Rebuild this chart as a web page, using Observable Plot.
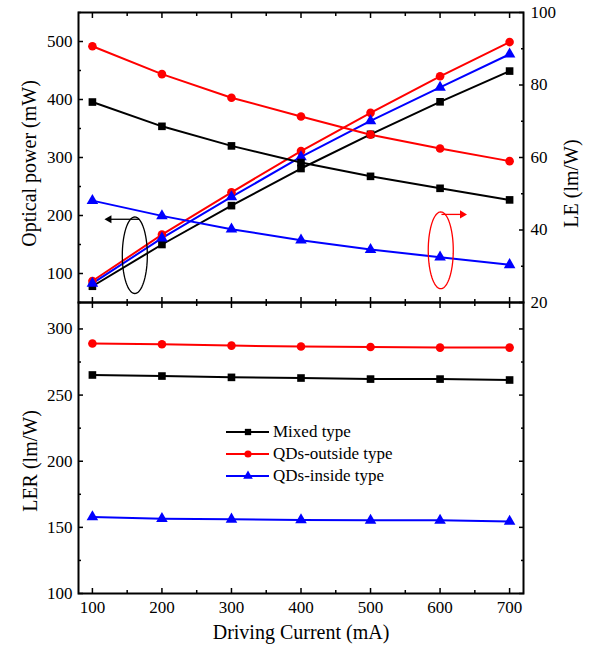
<!DOCTYPE html>
<html><head><meta charset="utf-8">
<script src="https://cdn.jsdelivr.net/npm/d3@7"></script>
<script src="https://cdn.jsdelivr.net/npm/@observablehq/plot@0.6"></script>
<style>
body{margin:0;background:#fff;}
#chart{position:relative;width:593px;height:646px;font-family:"Liberation Serif","Times New Roman",serif;background:#fff;}
#top,#bottom{position:absolute;left:0;}
#top{top:0}
#bottom{top:302px}
#chart svg{overflow:visible;}
#legend{position:absolute;left:226px;top:421px;font-size:17px;color:#000;}
.row{display:flex;align-items:center;height:22px;}
.row svg{margin-right:3px;}
</style></head><body>
<div id="chart"><div id="top"></div><div id="bottom"></div><div id="legend"></div></div>
<script>
// ---- data ----
const current = [100, 200, 300, 400, 500, 600, 700];
const seriesNames = ["Mixed type", "QDs-outside type", "QDs-inside type"];
const seriesColors = ["#000000", "#ff0000", "#0000ff"];
const seriesSymbols = ["square", "circle", "triangle"];

// optical power (mW), left axis
const powerMixed   = [78, 150, 217, 281, 340, 396, 449];
const powerOutside = [87, 167, 240, 311, 377, 440, 499];
const powerInside  = [83, 161, 232, 301, 363, 421, 478];

// luminous efficacy LE (lm/W), right axis
const leMixed   = [75.3, 68.6, 63.2, 58.6, 54.8, 51.5, 48.3];
const leOutside = [90.7, 83.0, 76.5, 71.3, 66.3, 62.5, 59.0];
const leInside  = [48.1, 43.9, 40.2, 37.2, 34.6, 32.5, 30.4];

// LER (lm/W), bottom panel
const lerMixed   = [265.2, 264.4, 263.4, 262.9, 262.1, 262.1, 261.4];
const lerOutside = [289.0, 288.4, 287.4, 286.7, 286.4, 285.9, 285.9];
const lerInside  = [157.9, 156.6, 156.1, 155.6, 155.3, 155.3, 154.5];

// tick values
const xMajor = [100, 200, 300, 400, 500, 600, 700];
const xMinor = [150, 250, 350, 450, 550, 650];
const powerMajor = [100, 200, 300, 400, 500];
const powerMinor = [50, 150, 250, 350, 450, 550];
const leMajor = [20, 40, 60, 80, 100];
const leMinor = [30, 50, 70, 90];
const lerMajor = [100, 150, 200, 250, 300];
const lerMinor = [125, 175, 225, 275];

// annotation ellipses/arrows (data units)
const leftEllipse = {cx: 161, cy: 131.5, rx: 18, ry: 66};          // power units
const leftArrow = {x1: 167, y1: 193.5, x2: 124, y2: 193.5};         // power units
const rightEllipse = {cx: 601, cy: 34.4, rx: 18, ry: 10.6};         // LE units
const rightArrow = {x1: 602, y1: 44.3, x2: 632, y2: 44.3};          // LE units

// ---- helpers ----
const P0 = 50, P1 = 550, L0 = 20, L1 = 100;
const toP = v => P0 + (v - L0) * (P1 - P0) / (L1 - L0);
const fromP = p => L0 + (p - P0) * (L1 - L0) / (P1 - P0);

function rows(arrs) {
  const out = [];
  arrs.forEach((a, s) => a.forEach((v, i) => out.push({series: seriesNames[s], current: current[i], value: v})));
  return out;
}
const powerRows = rows([powerMixed, powerOutside, powerInside]);
const leRows = rows([leMixed, leOutside, leInside]);
const lerRows = rows([lerMixed, lerOutside, lerInside]);

function ellipsePts(e, conv = v => v) {
  const pts = [];
  for (let k = 0; k <= 72; k++) {
    const t = k / 72 * 2 * Math.PI;
    pts.push({x: e.cx + e.rx * Math.cos(t), y: conv(e.cy + e.ry * Math.sin(t))});
  }
  return pts;
}

const font = "Liberation Serif";
const noText = () => "";
const colorScale = {domain: seriesNames, range: seriesColors};
const symbolScale = {domain: seriesNames, range: seriesSymbols};

function tickMarksX(anchor) {
  return [
    Plot.axisX(xMajor, {anchor, tickSize: -5, tickFormat: noText, label: null, strokeWidth: 1.5}),
    Plot.axisX(xMinor, {anchor, tickSize: -3, tickFormat: noText, label: null, strokeWidth: 1.5})
  ];
}

// ---- top panel ----
const topChart = Plot.plot({
  width: 593, height: 302,
  marginLeft: 78, marginRight: 70, marginTop: 12, marginBottom: 0,
  style: {fontFamily: font, fontSize: "16px", background: "transparent", color: "#000", overflow: "visible"},
  x: {domain: [80, 720]},
  y: {domain: [P0, P1]},
  color: colorScale,
  symbol: symbolScale,
  marks: [
    ...tickMarksX("bottom"),
    ...tickMarksX("top"),
    Plot.axisY(powerMajor, {anchor: "left", tickSize: -5, tickFormat: noText, label: null, strokeWidth: 1.5}),
    Plot.axisY(powerMinor, {anchor: "left", tickSize: -3, tickFormat: noText, label: null, strokeWidth: 1.5}),
    Plot.axisY(powerMajor, {anchor: "left", tickSize: 0, tickPadding: 6, label: null, fontSize: 17}),
    Plot.axisY(leMajor.map(toP), {anchor: "right", tickSize: -5, tickFormat: noText, label: null, strokeWidth: 1.5}),
    Plot.axisY(leMinor.map(toP), {anchor: "right", tickSize: -3, tickFormat: noText, label: null, strokeWidth: 1.5}),
    Plot.axisY(leMajor.map(toP), {anchor: "right", tickSize: 0, tickPadding: 7, label: null, fontSize: 17, tickFormat: d => Math.round(fromP(d))}),
    Plot.line(powerRows, {x: "current", y: "value", z: "series", stroke: "series", strokeWidth: 2}),
    Plot.line(leRows, {x: "current", y: d => toP(d.value), z: "series", stroke: "series", strokeWidth: 2}),
    Plot.dot(powerRows, {x: "current", y: "value", symbol: "series", fill: "series", r: 4.3}),
    Plot.dot(leRows, {x: "current", y: d => toP(d.value), symbol: "series", fill: "series", r: 4.3}),
    Plot.line(ellipsePts(leftEllipse), {x: "x", y: "y", stroke: "#000", strokeWidth: 1.3}),
    Plot.line(ellipsePts(rightEllipse, toP), {x: "x", y: "y", stroke: "#ff0000", strokeWidth: 1.3}),
    Plot.link([leftArrow], {x1: "x1", y1: "y1", x2: "x2", y2: "y2", stroke: "#000", strokeWidth: 1.3}),
    Plot.dot([leftArrow], {x: "x2", y: "y2", symbol: "triangle", fill: "#000", r: 3, rotate: -90}),
    Plot.link([rightArrow], {x1: "x1", y1: d => toP(d.y1), x2: "x2", y2: d => toP(d.y2), stroke: "#ff0000", strokeWidth: 1.3}),
    Plot.dot([rightArrow], {x: "x2", y: d => toP(d.y2), symbol: "triangle", fill: "#ff0000", r: 3, rotate: 90}),
    Plot.text(["Optical power (mW)"], {text: d => d, frameAnchor: "left", dx: -49, dy: 6, rotate: -90, textAnchor: "middle", lineAnchor: "middle", fontSize: 20}),
    Plot.text(["LE (lm/W)"], {text: d => d, frameAnchor: "right", dx: 48, dy: 26, rotate: -90, textAnchor: "middle", lineAnchor: "middle", fontSize: 20}),
    Plot.frame({strokeWidth: 2})
  ]
});
document.getElementById("top").appendChild(topChart);

// ---- bottom panel ----
const bottomChart = Plot.plot({
  width: 593, height: 344,
  marginLeft: 78, marginRight: 70, marginTop: 0, marginBottom: 53,
  style: {fontFamily: font, fontSize: "16px", background: "transparent", color: "#000", overflow: "visible"},
  x: {domain: [80, 720]},
  y: {domain: [100, 320]},
  color: colorScale,
  symbol: symbolScale,
  marks: [
    ...tickMarksX("bottom"),
    ...tickMarksX("top"),
    Plot.axisX(xMajor, {anchor: "bottom", tickSize: 0, tickPadding: 7, label: null, fontSize: 17}),
    Plot.axisY(lerMajor, {anchor: "left", tickSize: -5, tickFormat: noText, label: null, strokeWidth: 1.5}),
    Plot.axisY(lerMinor, {anchor: "left", tickSize: -3, tickFormat: noText, label: null, strokeWidth: 1.5}),
    Plot.axisY(lerMajor, {anchor: "left", tickSize: 0, tickPadding: 6, label: null, fontSize: 17}),
    Plot.axisY(lerMajor, {anchor: "right", tickSize: -5, tickFormat: noText, label: null, strokeWidth: 1.5}),
    Plot.axisY(lerMinor, {anchor: "right", tickSize: -3, tickFormat: noText, label: null, strokeWidth: 1.5}),
    Plot.line(lerRows, {x: "current", y: "value", z: "series", stroke: "series", strokeWidth: 2}),
    Plot.dot(lerRows, {x: "current", y: "value", symbol: "series", fill: "series", r: 4.3}),
    Plot.text(["LER (lm/W)"], {text: d => d, frameAnchor: "left", dx: -48, dy: 13, rotate: -90, textAnchor: "middle", lineAnchor: "middle", fontSize: 20}),
    Plot.text(["Driving Current (mA)"], {text: d => d, frameAnchor: "bottom", dy: 39, textAnchor: "middle", lineAnchor: "middle", fontSize: 20}),
    Plot.frame({strokeWidth: 2})
  ]
});
document.getElementById("bottom").appendChild(bottomChart);

// ---- legend ----
const legend = document.getElementById("legend");
seriesNames.forEach((name, i) => {
  const row = document.createElement("div");
  row.className = "row";
  const svg = d3.create("svg").attr("width", 44).attr("height", 12);
  svg.append("line").attr("x1", 0).attr("x2", 43).attr("y1", 6).attr("y2", 6)
    .attr("stroke", seriesColors[i]).attr("stroke-width", 2);
  const sym = {square: d3.symbolSquare, circle: d3.symbolCircle, triangle: d3.symbolTriangle}[seriesSymbols[i]];
  svg.append("path").attr("d", d3.symbol(sym, 40)()).attr("transform", "translate(22,6)").attr("fill", seriesColors[i]);
  row.appendChild(svg.node());
  const span = document.createElement("span");
  span.textContent = name;
  row.appendChild(span);
  legend.appendChild(row);
});
</script>
</body></html>
